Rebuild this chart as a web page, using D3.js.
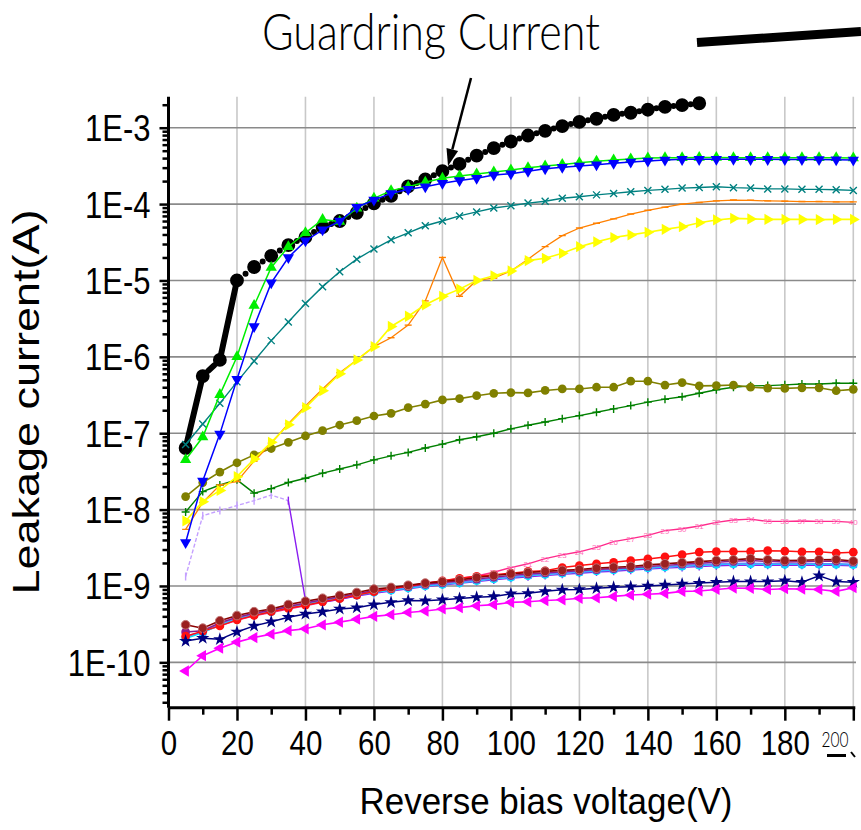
<!DOCTYPE html>
<html>
<head>
<meta charset="utf-8">
<script src="https://cdn.jsdelivr.net/npm/d3@7"></script>
<style>
  body { margin: 0; background: #ffffff; }
  svg { display: block; }
</style>
</head>
<body>
<svg id="chart" width="861" height="830"></svg>
<script>
// ---- measured data: leakage current (A) vs reverse bias (V) ----
const voltage = [5,10,15,20,25,30,35,40,45,50,55,60,65,70,75,80,85,90,95,100,
                 105,110,115,120,125,130,135,140,145,150,155,160,165,170,175,180,185,190,195,200];
const guardVoltage = [5,10,15,20,25,30,35,40,45,50,55,60,65,70,75,80,85,90,95,100,
                      105,110,115,120,125,130,135,140,145,150,155];

const guardring = [6.4e-8,5.6e-7,9.1e-7,1.0e-5,1.5e-5,2.1e-5,2.9e-5,3.7e-5,5.0e-5,6.0e-5,
  7.7e-5,1.02e-4,1.28e-4,1.7e-4,2.1e-4,2.7e-4,3.35e-4,4.3e-4,5.4e-4,6.6e-4,
  7.9e-4,9.1e-4,1.05e-3,1.19e-3,1.31e-3,1.47e-3,1.57e-3,1.72e-3,1.87e-3,1.98e-3,2.09e-3];

const padGreen = [4.5e-8,8.9e-8,3.2e-7,1.0e-6,4.7e-6,1.48e-5,2.76e-5,4.2e-5,6.3e-5,5.9e-5,
  8.8e-5,1.19e-4,1.5e-4,1.69e-4,1.93e-4,2.18e-4,2.33e-4,2.48e-4,2.63e-4,2.79e-4,
  3.0e-4,3.16e-4,3.3e-4,3.48e-4,3.63e-4,3.77e-4,3.89e-4,4.0e-4,4.05e-4,4.05e-4,
  4.06e-4,4.06e-4,4.05e-4,4.05e-4,4.05e-4,4.04e-4,4.04e-4,4.03e-4,4.03e-4,4.0e-4];

const padBlue = [3.7e-9,2.37e-8,9.8e-8,5.1e-7,2.5e-6,9.3e-6,2.0e-5,3.3e-5,4.6e-5,6.0e-5,
  9.1e-5,1.13e-4,1.38e-4,1.56e-4,1.69e-4,1.87e-4,2.03e-4,2.18e-4,2.4e-4,2.5e-4,
  2.7e-4,2.9e-4,3.03e-4,3.16e-4,3.28e-4,3.42e-4,3.56e-4,3.67e-4,3.78e-4,3.85e-4,
  3.85e-4,3.86e-4,3.86e-4,3.85e-4,3.85e-4,3.84e-4,3.84e-4,3.83e-4,3.82e-4,3.78e-4];

const padTeal = [7.1e-8,1.32e-7,2.46e-7,4.7e-7,8.8e-7,1.63e-6,2.86e-6,5.0e-6,8.3e-6,1.3e-5,
  1.9e-5,2.58e-5,3.4e-5,4.2e-5,5.2e-5,6.0e-5,7.0e-5,7.9e-5,8.9e-5,9.5e-5,
  1.03e-4,1.09e-4,1.19e-4,1.25e-4,1.32e-4,1.38e-4,1.45e-4,1.51e-4,1.56e-4,1.62e-4,
  1.65e-4,1.69e-4,1.64e-4,1.62e-4,1.58e-4,1.58e-4,1.56e-4,1.56e-4,1.54e-4,1.51e-4];

const padOrange = [5.5e-9,1.24e-8,2.1e-8,2.33e-8,4.3e-8,7.4e-8,1.33e-7,2.28e-7,3.8e-7,6.2e-7,
  9.1e-7,1.36e-6,1.78e-6,2.6e-6,5.4e-6,2.0e-5,6.2e-6,1.0e-5,1.07e-5,1.33e-5,
  1.9e-5,2.77e-5,3.86e-5,4.86e-5,5.6e-5,6.4e-5,7.4e-5,8.3e-5,9.1e-5,1.0e-4,
  1.05e-4,1.1e-4,1.13e-4,1.12e-4,1.1e-4,1.09e-4,1.08e-4,1.08e-4,1.07e-4,1.07e-4];

const padYellow = [7.1e-9,1.27e-8,1.78e-8,2.7e-8,4.6e-8,7.6e-8,1.29e-7,2.16e-7,3.6e-7,6.0e-7,
  9.1e-7,1.36e-6,2.5e-6,3.4e-6,4.8e-6,6.2e-6,7.7e-6,1.0e-5,1.15e-5,1.33e-5,
  1.82e-5,1.95e-5,2.27e-5,2.77e-5,3.2e-5,3.65e-5,3.95e-5,4.27e-5,4.67e-5,5.06e-5,
  5.7e-5,6.2e-5,6.5e-5,6.4e-5,6.3e-5,6.3e-5,6.3e-5,6.25e-5,6.3e-5,6.3e-5];

const padOlive = [1.48e-8,2.26e-8,3.1e-8,4.1e-8,5.2e-8,6.3e-8,7.6e-8,9.2e-8,1.08e-7,1.28e-7,
  1.46e-7,1.68e-7,1.82e-7,2.16e-7,2.4e-7,2.73e-7,2.84e-7,3.1e-7,3.33e-7,3.4e-7,
  3.37e-7,3.63e-7,3.8e-7,3.8e-7,4.0e-7,4.0e-7,4.8e-7,4.8e-7,4.27e-7,4.6e-7,
  4.17e-7,4.2e-7,4.27e-7,4.0e-7,3.9e-7,3.86e-7,3.93e-7,3.93e-7,3.6e-7,3.75e-7];

const padDarkGreen = [9.3e-9,1.72e-8,2.1e-8,2.45e-8,1.64e-8,1.88e-8,2.26e-8,2.57e-8,3.0e-8,3.4e-8,
  3.85e-8,4.47e-8,5.05e-8,5.6e-8,6.4e-8,7.2e-8,8.2e-8,9.0e-8,1.0e-7,1.14e-7,
  1.27e-7,1.4e-7,1.55e-7,1.7e-7,1.88e-7,2.08e-7,2.3e-7,2.55e-7,2.79e-7,3.0e-7,
  3.33e-7,3.7e-7,4.0e-7,4.17e-7,4.2e-7,4.3e-7,4.4e-7,4.4e-7,4.5e-7,4.5e-7];

const padViolet = [1.33e-9,8.3e-9,9.7e-9,1.13e-8,1.31e-8,1.55e-8,1.31e-8,6.5e-10,6.1e-10,6.7e-10,
  7.4e-10,8.0e-10,8.6e-10,9.2e-10,9.8e-10,1.03e-9,1.08e-9,1.14e-9,1.2e-9,1.26e-9,
  1.32e-9,1.37e-9,1.42e-9,1.47e-9,1.52e-9,1.56e-9,1.61e-9,1.66e-9,1.71e-9,1.75e-9,
  1.8e-9,1.84e-9,1.87e-9,1.88e-9,1.86e-9,1.86e-9,1.86e-9,1.87e-9,1.86e-9,1.84e-9];

const padMaroon = [3.1e-10,2.8e-10,3.5e-10,4.1e-10,4.6e-10,5.0e-10,5.7e-10,6.3e-10,6.9e-10,7.5e-10,
  8.2e-10,9.1e-10,9.55e-10,1.02e-9,1.09e-9,1.14e-9,1.2e-9,1.29e-9,1.37e-9,1.44e-9,
  1.5e-9,1.55e-9,1.6e-9,1.64e-9,1.71e-9,1.76e-9,1.8e-9,1.89e-9,1.95e-9,2.02e-9,
  2.08e-9,2.15e-9,2.2e-9,2.28e-9,2.2e-9,2.15e-9,2.17e-9,2.2e-9,2.22e-9,2.12e-9];

const padPurple = [2.5e-10,2.6e-10,3.3e-10,3.9e-10,4.4e-10,4.8e-10,5.4e-10,6.0e-10,6.6e-10,7.2e-10,
  7.9e-10,8.7e-10,9.2e-10,9.8e-10,1.05e-9,1.1e-9,1.16e-9,1.23e-9,1.3e-9,1.37e-9,
  1.43e-9,1.48e-9,1.53e-9,1.58e-9,1.64e-9,1.69e-9,1.73e-9,1.8e-9,1.86e-9,1.93e-9,
  1.98e-9,2.05e-9,2.1e-9,2.16e-9,2.1e-9,2.06e-9,2.08e-9,2.1e-9,2.12e-9,2.05e-9];

const padRed = [2.2e-10,2.56e-10,3.0e-10,3.6e-10,4.1e-10,4.6e-10,5.1e-10,5.6e-10,6.2e-10,6.8e-10,
  7.6e-10,8.4e-10,9.2e-10,1.0e-9,1.08e-9,1.17e-9,1.26e-9,1.34e-9,1.4e-9,1.47e-9,
  1.55e-9,1.58e-9,1.74e-9,1.85e-9,1.95e-9,2.04e-9,2.15e-9,2.26e-9,2.4e-9,2.57e-9,
  2.77e-9,2.82e-9,2.82e-9,2.82e-9,2.9e-9,2.86e-9,2.8e-9,2.8e-9,2.7e-9,2.77e-9];

const padCyan = [2.05e-10,2.45e-10,3.1e-10,3.7e-10,4.2e-10,4.6e-10,5.2e-10,5.8e-10,6.3e-10,6.9e-10,
  7.6e-10,8.3e-10,8.8e-10,9.4e-10,1.0e-9,1.05e-9,1.1e-9,1.17e-9,1.24e-9,1.3e-9,
  1.36e-9,1.42e-9,1.47e-9,1.52e-9,1.57e-9,1.62e-9,1.67e-9,1.72e-9,1.77e-9,1.82e-9,
  1.87e-9,1.91e-9,1.94e-9,1.95e-9,1.93e-9,1.92e-9,1.92e-9,1.93e-9,1.92e-9,1.9e-9];

const padSky = [2.2e-10,2.5e-10,3.2e-10,3.8e-10,4.3e-10,4.75e-10,5.35e-10,5.95e-10,6.5e-10,7.1e-10,
  7.8e-10,8.5e-10,9.0e-10,9.6e-10,1.02e-9,1.07e-9,1.12e-9,1.19e-9,1.26e-9,1.32e-9,
  1.38e-9,1.44e-9,1.49e-9,1.54e-9,1.6e-9,1.65e-9,1.7e-9,1.75e-9,1.8e-9,1.85e-9,
  1.9e-9,1.94e-9,1.97e-9,1.98e-9,1.96e-9,1.95e-9,1.95e-9,1.96e-9,1.95e-9,1.93e-9];

const padPink = [2.1e-10,2.5e-10,3.0e-10,3.55e-10,4.05e-10,4.5e-10,5.0e-10,5.5e-10,6.1e-10,6.7e-10,
  7.5e-10,8.3e-10,9.1e-10,1.0e-9,1.09e-9,1.16e-9,1.25e-9,1.35e-9,1.51e-9,1.74e-9,
  1.95e-9,2.28e-9,2.55e-9,2.8e-9,3.2e-9,3.8e-9,4.17e-9,4.6e-9,5.3e-9,5.6e-9,
  6.1e-9,6.8e-9,7.3e-9,7.5e-9,7.0e-9,7.0e-9,7.1e-9,7.0e-9,7.0e-9,6.8e-9];

const padNavy = [1.9e-10,2.07e-10,2.0e-10,2.5e-10,3.0e-10,3.4e-10,3.9e-10,4.3e-10,4.6e-10,5.0e-10,
  5.2e-10,5.7e-10,6.1e-10,6.45e-10,6.4e-10,6.6e-10,6.85e-10,7.1e-10,7.3e-10,7.9e-10,
  8.0e-10,8.5e-10,8.9e-10,9.0e-10,9.3e-10,9.6e-10,9.8e-10,1.0e-9,1.03e-9,1.06e-9,
  1.09e-9,1.12e-9,1.14e-9,1.14e-9,1.14e-9,1.17e-9,1.12e-9,1.36e-9,1.14e-9,1.12e-9];

const padMagenta = [7.7e-11,1.22e-10,1.53e-10,1.84e-10,2.11e-10,2.34e-10,2.6e-10,2.75e-10,3.1e-10,3.36e-10,
  3.67e-10,4.0e-10,4.2e-10,4.5e-10,4.7e-10,5.0e-10,5.2e-10,5.5e-10,5.7e-10,6.1e-10,
  6.2e-10,6.45e-10,6.6e-10,6.9e-10,7.0e-10,7.3e-10,7.6e-10,7.8e-10,8.0e-10,8.5e-10,
  8.6e-10,9.0e-10,9.4e-10,9.3e-10,9.0e-10,9.2e-10,9.1e-10,9.0e-10,8.5e-10,9.5e-10];

// ---- axis ticks ----
const yTicks = [1e-10,1e-9,1e-8,1e-7,1e-6,1e-5,1e-4,1e-3];
const yTickLabels = ["1E-10","1E-9","1E-8","1E-7","1E-6","1E-5","1E-4","1E-3"];
const xTicks = [0,20,40,60,80,100,120,140,160,180];
const xTickLabels = ["0","20","40","60","80","100","120","140","160","180"];
const xMinorTicks = [10,30,50,70,90,110,130,150,170,190];
const xGrid = [20,40,60,80,100,120,140,160,180,200];

// ---- layout ----
const svg = d3.select("#chart");
const FONT = "'Liberation Sans', Arial, sans-serif";
const x = d3.scaleLinear().domain([0, 200]).range([168.5, 853.3]);
const y = d3.scaleLog().domain([Math.pow(10, -10.594), Math.pow(10, -2.594)]).range([707.7, 96.7]);
const pLeft = 168.5, pBottom = 707.7, pTop = 96.7, pRight = 856;

svg.append("rect").attr("width", 861).attr("height", 830).attr("fill", "#ffffff");

svg.append("defs").append("clipPath").attr("id", "plotclip")
  .append("rect").attr("x", pLeft).attr("y", pTop - 10).attr("width", 861 - pLeft).attr("height", pBottom - pTop + 10);

// grid
const grid = svg.append("g");
grid.selectAll("line.v").data(xGrid).join("line").attr("class", "v")
  .attr("x1", d => x(d)).attr("x2", d => x(d))
  .attr("y1", pTop).attr("y2", pBottom)
  .attr("stroke", "#c8c8c8").attr("stroke-width", 1.6);
grid.selectAll("line.h").data(yTicks).join("line").attr("class", "h")
  .attr("x1", pLeft).attr("x2", pRight)
  .attr("y1", d => y(d)).attr("y2", d => y(d))
  .attr("stroke", "#8a8a8a").attr("stroke-width", 1.6);

// ---- markers ----
function markerPath(type) {
  switch (type) {
    case "circleBig": return d3.symbol(d3.symbolCircle, 150)();
    case "circle": return d3.symbol(d3.symbolCircle, 60)();
    case "triUp": return d3.symbol(d3.symbolTriangle, 55)();
    case "star": return d3.symbol(d3.symbolStar, 55)();
    case "x": return "M-3.5,-3.5L3.5,3.5M-3.5,3.5L3.5,-3.5";
    case "plus": return "M-4,0L4,0M0,-4L0,4";
    case "dash": return "M-3.5,0L3.5,0";
    case "tick": return "M0,-4L0,4";
  }
  return "";
}
const rotations = { triDown: 180, triRight: 90, triLeft: -90 };

const plot = svg.append("g").attr("clip-path", "url(#plotclip)");

function drawSeries(cfg) {
  const pts = cfg.xs.map((v, i) => [v, cfg.values[i]]);
  const g = plot.append("g");
  const line = d3.line().x(d => x(d[0])).y(d => y(d[1]));
  if (cfg.dashDot) {
    // dash-dot connector: long gaps read as solid dashes, short ones show a single dot
    const segs = d3.pairs(pts);
    g.selectAll("line.seg").data(segs).join("line").attr("class", "seg")
      .attr("x1", d => x(d[0][0])).attr("y1", d => y(d[0][1]))
      .attr("x2", d => x(d[1][0])).attr("y2", d => y(d[1][1]))
      .attr("stroke", cfg.color).attr("stroke-width", cfg.width).attr("stroke-linecap", "round")
      .attr("stroke-dasharray", d => {
        const L = Math.hypot(x(d[1][0]) - x(d[0][0]), y(d[1][1]) - y(d[0][1]));
        if (L > 60) return null;
        if (L > 22) return `${L * 0.5 - 4},4,${L}`;
        return `0,${L / 2},0,${L}`;
      })
      .attr("stroke-dashoffset", d => {
        const L = Math.hypot(x(d[1][0]) - x(d[0][0]), y(d[1][1]) - y(d[0][1]));
        return (L > 22 && L <= 60) ? -(L * 0.25 + 2) : 0;
      });
  } else if (cfg.splitAt) {
    g.append("path").attr("d", line(pts.slice(0, cfg.splitAt + 1)))
      .attr("fill", "none").attr("stroke", cfg.earlyColor).attr("stroke-width", cfg.width)
      .attr("stroke-dasharray", cfg.earlyDash);
    g.append("path").attr("d", line(pts.slice(cfg.splitAt)))
      .attr("fill", "none").attr("stroke", cfg.color).attr("stroke-width", cfg.width);
  } else {
    g.append("path").attr("d", line(pts))
      .attr("fill", "none").attr("stroke", cfg.color).attr("stroke-width", cfg.width);
  }
  const base = cfg.marker in rotations ? "triUp" : cfg.marker;
  const rot = rotations[cfg.marker] || 0;
  const stroked = ["x", "plus", "dash", "tick"].includes(base);
  g.selectAll("path.m").data(pts).join("path")
    .attr("class", "m")
    .attr("d", markerPath(base))
    .attr("transform", d => `translate(${x(d[0])},${y(d[1])}) rotate(${rot})`)
    .attr("fill", stroked ? "none" : cfg.fill || cfg.color)
    .attr("stroke", (d, i) => stroked ? (cfg.splitAt && i < cfg.splitAt ? cfg.earlyColor : cfg.color) : (cfg.outline || "none"))
    .attr("stroke-width", stroked ? 1.4 : 1);
  if (cfg.labels) {
    g.selectAll("text").data(pts).join("text")
      .attr("x", d => x(d[0])).attr("y", d => y(d[1]) + 3)
      .attr("text-anchor", "middle")
      .attr("font-family", FONT).attr("font-size", 8)
      .attr("fill", "#ff70b8")
      .text((d, i) => i + 1);
  }
}

const seriesList = [
  { xs: guardVoltage, values: guardring, color: "#000000", width: 6, dashDot: true, marker: "circleBig" },
  { xs: voltage, values: padPink, color: "#ff2a8c", width: 1.4, marker: "none", labels: true },
  { xs: voltage, values: padViolet, color: "#8a1ef0", width: 1.4, marker: "tick", splitAt: 6, earlyColor: "#c4a0ff", earlyDash: "4,2" },
  { xs: voltage, values: padCyan, color: "#00e5ff", width: 1.5, marker: "circle", fill: "#00e5ff" },
  { xs: voltage, values: padSky, color: "#5a8cff", width: 1.4, marker: "x" },
  { xs: voltage, values: padPurple, color: "#8c1a8c", width: 1.5, marker: "circle" },
  { xs: voltage, values: padRed, color: "#ff1010", width: 1.5, marker: "circle" },
  { xs: voltage, values: padMaroon, color: "#8b0000", width: 1.6, marker: "circle", fill: "#9a2020", outline: "#c07070" },
  { xs: voltage, values: padNavy, color: "#000080", width: 1.5, marker: "star" },
  { xs: voltage, values: padMagenta, color: "#ff00ff", width: 1.6, marker: "triLeft" },
  { xs: voltage, values: padDarkGreen, color: "#008000", width: 1.4, marker: "plus" },
  { xs: voltage, values: padOlive, color: "#808000", width: 1.6, marker: "circle" },
  { xs: voltage, values: padOrange, color: "#ff8000", width: 1.3, marker: "dash" },
  { xs: voltage, values: padYellow, color: "#ffff00", width: 1.6, marker: "triRight" },
  { xs: voltage, values: padTeal, color: "#008080", width: 1.4, marker: "x" },
  { xs: voltage, values: padGreen, color: "#00ee00", width: 1.5, marker: "triUp" },
  { xs: voltage, values: padBlue, color: "#0000ff", width: 1.5, marker: "triDown" }
];
seriesList.forEach(drawSeries);

// ---- axes ----
const yAxis = svg.append("g").attr("transform", `translate(${pLeft},0)`)
  .call(d3.axisLeft(y).tickValues(yTicks).tickFormat((d, i) => yTickLabels[i]).tickSize(9).tickPadding(0));
const yMinor = [];
yTicks.concat([1e-2]).forEach(dec => { for (let k = 2; k <= 9; k++) { const v = dec / 10 * k; if (v > y.domain()[0] && v < y.domain()[1]) yMinor.push(v); } });
svg.append("g").attr("transform", `translate(${pLeft},0)`)
  .call(d3.axisLeft(y).tickValues(yMinor).tickFormat("").tickSize(6))
  .call(g => g.select(".domain").remove());
yAxis.select(".domain").attr("stroke-width", 3).attr("d", `M0,${pTop}V${pBottom}`);
svg.selectAll(".tick line").attr("stroke-width", 2.5);
yAxis.selectAll(".tick text")
  .attr("x", 0).attr("dy", null).attr("y", 0)
  .attr("transform", "translate(-18,13) scale(1,1.2)")
  .attr("font-family", FONT).attr("font-size", 31).attr("fill", "#000");

const xAxis = svg.append("g").attr("transform", `translate(0,${pBottom})`)
  .call(d3.axisBottom(x).tickValues(xTicks.concat([200])).tickFormat(d => { const i = xTicks.indexOf(d); return i >= 0 ? xTickLabels[i] : ""; }).tickSize(13));
svg.append("g").attr("transform", `translate(0,${pBottom})`)
  .call(d3.axisBottom(x).tickValues(xMinorTicks).tickFormat("").tickSize(7))
  .call(g => g.select(".domain").remove())
  .selectAll(".tick line").attr("stroke-width", 2.5);
xAxis.select(".domain").attr("stroke-width", 3).attr("d", `M${pLeft},0H${x(200) + 2}`);
xAxis.selectAll(".tick line").attr("stroke-width", 2.5);
xAxis.selectAll(".tick text")
  .attr("y", 0).attr("dy", null)
  .attr("transform", "translate(0,47) scale(1,1.2)")
  .attr("font-family", FONT).attr("font-size", 29.5).attr("fill", "#000");

// last tick value, drawn in a thin face
svg.append("text").attr("x", 835).attr("y", 747).attr("text-anchor", "middle")
  .attr("font-family", "Lato, 'Open Sans', sans-serif").attr("font-weight", 300)
  .attr("font-size", 22).attr("textLength", 27).attr("lengthAdjust", "spacingAndGlyphs")
  .text("200");
svg.append("line").attr("x1", 827).attr("x2", 846).attr("y1", 755.5).attr("y2", 755.5)
  .attr("stroke", "#000").attr("stroke-width", 3);
svg.append("line").attr("x1", 851).attr("x2", 855).attr("y1", 752).attr("y2", 757)
  .attr("stroke", "#000").attr("stroke-width", 2);

// axis titles
svg.append("text").attr("x", 546).attr("y", 814).attr("text-anchor", "middle")
  .attr("font-family", FONT).attr("font-size", 36)
  .attr("textLength", 373).attr("lengthAdjust", "spacingAndGlyphs")
  .text("Reverse bias voltage(V)");
svg.append("text").attr("transform", "translate(39,402) rotate(-90)").attr("text-anchor", "middle")
  .attr("font-family", FONT).attr("font-size", 36)
  .attr("textLength", 385).attr("lengthAdjust", "spacingAndGlyphs")
  .text("Leakage current(A)");

// ---- annotation ----
svg.append("text").attr("x", 262).attr("y", 50)
  .attr("font-family", "Lato, 'Open Sans', sans-serif").attr("font-weight", 300)
  .attr("font-size", 52).attr("textLength", 338).attr("lengthAdjust", "spacingAndGlyphs")
  .text("Guardring Current");

const tail = [471, 78], tip = [448, 166];
const adx = tip[0] - tail[0], ady = tip[1] - tail[1], alen = Math.hypot(adx, ady);
const ux = adx / alen, uy = ady / alen, px = -uy, py = ux;
const hl = 17, hw = 6;
const bx = tip[0] - ux * hl, by = tip[1] - uy * hl;
svg.append("line").attr("x1", tail[0]).attr("y1", tail[1]).attr("x2", bx).attr("y2", by)
  .attr("stroke", "#000").attr("stroke-width", 2.5);
svg.append("path")
  .attr("d", `M${tip[0]},${tip[1]}L${bx + px * hw},${by + py * hw}L${bx - px * hw},${by - py * hw}Z`)
  .attr("fill", "#000");

svg.append("line").attr("x1", 697).attr("y1", 42.5).attr("x2", 861).attr("y2", 31.5)
  .attr("stroke", "#000").attr("stroke-width", 9);
</script>
</body>
</html>
